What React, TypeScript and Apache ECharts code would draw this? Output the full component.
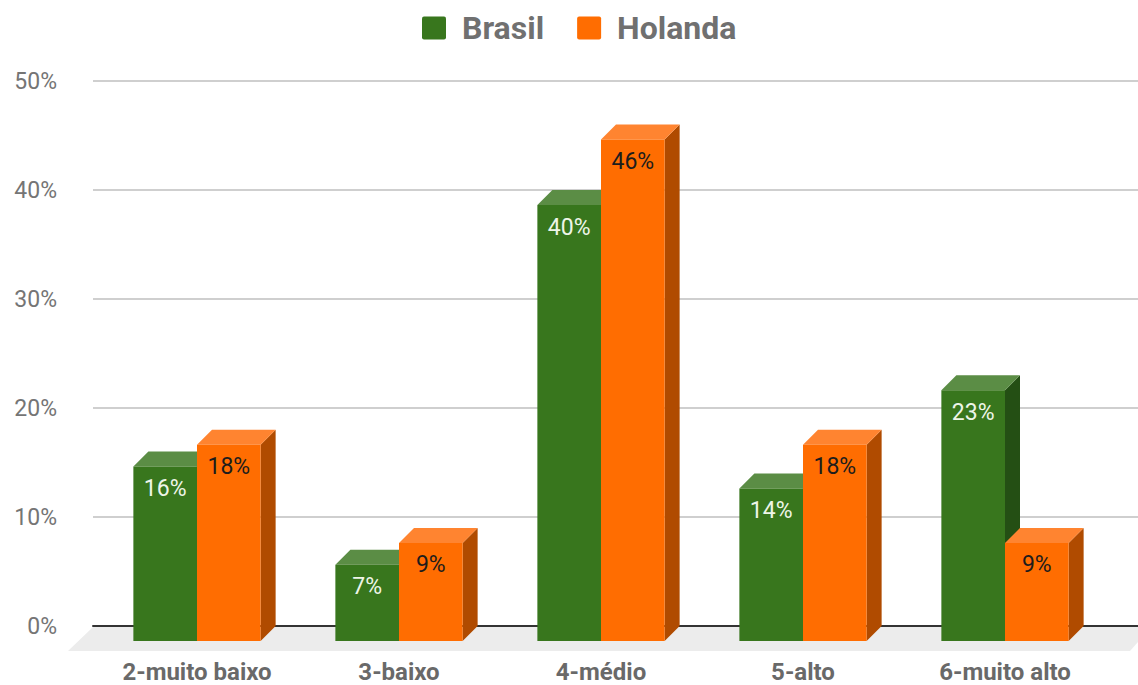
import React, { useEffect, useRef } from "react";
import * as echarts from "echarts";

const categories = ["2-muito baixo", "3-baixo", "4-médio", "5-alto", "6-muito alto"];
const brasil = [16, 7, 40, 14, 23];
const holanda = [18, 9, 46, 18, 9];
const seriesNames = ["Brasil", "Holanda"];
const yMax = 50;
const yInterval = 10;

const DX = 15;
const DY = 15;

type Palette = { front: string; top: string; side: string; label: string };
const palettes: Palette[] = [
  { front: "#38761d", top: "#5b8d45", side: "#244f14", label: "#eef5e8" },
  { front: "#ff6d01", top: "#ff8430", side: "#b04b00", label: "#1c1c1c" },
];

function makeRender(side: number, p: Palette) {
  return (params: any, api: any) => {
    const x = api.value(0);
    const v = api.value(1);
    const top = api.coord([x, v]);
    const base = api.coord([x, 0]);
    const band = api.size([1, 0])[0];
    const w = band * 0.315;
    const x0 = side < 0 ? top[0] - w : top[0];
    const x1 = x0 + w;
    const yT = top[1];
    const yB = base[1];
    return {
      type: "group",
      children: [
        {
          type: "polygon",
          shape: { points: [[x1, yB], [x1 + DX, yB - DY], [x1 + DX, yT - DY], [x1, yT]] },
          style: { fill: p.side },
        },
        {
          type: "polygon",
          shape: { points: [[x0, yT], [x0 + DX, yT - DY], [x1 + DX, yT - DY], [x1, yT]] },
          style: { fill: p.top },
        },
        {
          type: "rect",
          shape: { x: x0, y: yT, width: w, height: yB - yT },
          style: { fill: p.front },
        },
        {
          type: "text",
          style: {
            text: v + "%",
            x: (x0 + x1) / 2,
            y: yT + 22,
            align: "center",
            verticalAlign: "middle",
            fill: p.label,
            fontSize: 23,
            fontFamily: "Roboto",
          },
        },
      ],
    };
  };
}

const legendIcon =
  "path://M2,0 H22 Q24,0 24,2 V21 Q24,23 22,23 H2 Q0,23 0,21 V2 Q0,0 2,0 Z";

export default function App() {
  const ref = useRef<HTMLDivElement>(null);
  useEffect(() => {
    document.body.style.margin = "0";
    const chart = echarts.init(ref.current!, null, { renderer: "svg" });
    const W = 1138;
    const H = 685;
    const backLeft = 93;
    const backTop = 81;
    const backBottom = 59;
    chart.setOption({
      animation: false,
      backgroundColor: "#ffffff",
      textStyle: { fontFamily: "Roboto" },
      color: palettes.map((p) => p.front),
      legend: {
        data: seriesNames,
        top: 12,
        left: 422,
        padding: 0,
        itemWidth: 24,
        itemHeight: 23,
        itemGap: 33,
        icon: legendIcon,
        textStyle: {
          fontSize: 32,
          fontWeight: "bold",
          color: "#707070",
          fontFamily: "Roboto",
          padding: [0, 0, 0, 11],
        },
      },
      graphic: [
        {
          type: "polygon",
          z: -1,
          shape: {
            points: [
              [backLeft, H - backBottom + 1],
              [W, H - backBottom + 1],
              [W, H - backBottom + 16],
              [W - 8, H - backBottom + 25],
              [backLeft - 25, H - backBottom + 25],
            ],
          },
          style: { fill: "#ececec" },
        },
      ],
      grid: [
        { left: backLeft, right: 0, top: backTop, bottom: backBottom },
        { left: backLeft + 3, right: 32, top: backTop + DY, bottom: backBottom - DY },
      ],
      xAxis: [
        {
          gridIndex: 0,
          type: "category",
          data: categories,
          axisLine: { show: true, lineStyle: { color: "#333333", width: 2 } },
          axisTick: { show: false },
          axisLabel: { show: false },
        },
        {
          gridIndex: 1,
          type: "category",
          data: categories,
          axisLine: { show: false },
          axisTick: { show: false },
          axisLabel: {
            fontSize: 24,
            lineHeight: 22,
            fontWeight: "bold",
            color: "#696969",
            fontFamily: "Roboto",
            margin: 20,
          },
        },
      ],
      yAxis: [
        {
          gridIndex: 0,
          type: "value",
          min: 0,
          max: yMax,
          interval: yInterval,
          axisLine: { show: false },
          axisTick: { show: false },
          axisLabel: {
            formatter: "{value}%",
            fontSize: 23,
            color: "#757575",
            fontFamily: "Roboto",
            margin: 36,
          },
          splitLine: { lineStyle: { color: "#cfcfcf", width: 2 } },
        },
        {
          gridIndex: 1,
          type: "value",
          min: 0,
          max: yMax,
          interval: yInterval,
          show: false,
        },
      ],
      series: [
        {
          name: seriesNames[0],
          type: "custom",
          xAxisIndex: 1,
          yAxisIndex: 1,
          itemStyle: { color: palettes[0].front },
          renderItem: makeRender(-1, palettes[0]),
          encode: { x: 0, y: 1 },
          data: brasil.map((v, i) => [i, v]),
        },
        {
          name: seriesNames[1],
          type: "custom",
          xAxisIndex: 1,
          yAxisIndex: 1,
          itemStyle: { color: palettes[1].front },
          renderItem: makeRender(1, palettes[1]),
          encode: { x: 0, y: 1 },
          data: holanda.map((v, i) => [i, v]),
        },
      ],
    });
    return () => chart.dispose();
  }, []);
  return (
    <div
      ref={ref}
      style={{ position: "absolute", left: 0, top: 0, width: 1138, height: 685 }}
    />
  );
}
